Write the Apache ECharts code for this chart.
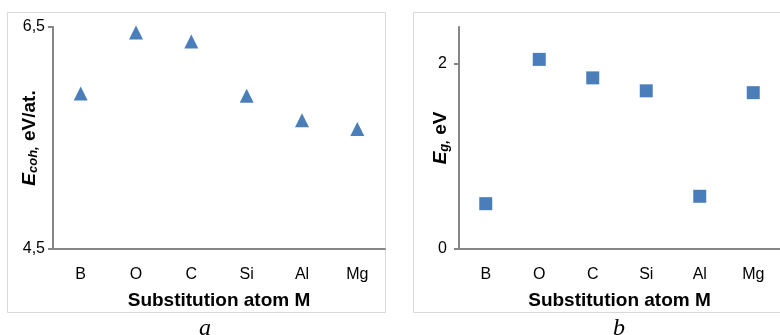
<!DOCTYPE html>
<html>
<head>
<meta charset="utf-8">
<script src="https://cdn.jsdelivr.net/npm/echarts@6.0.0/dist/echarts.min.js"></script>
<style>
  html, body { margin: 0; padding: 0; background: #fff; }
  #chart { width: 780px; height: 335px; }
</style>
</head>
<body>
<div id="chart"></div>
<script>
// --- DATA ---
const atoms = ['B', 'O', 'C', 'Si', 'Al', 'Mg'];
const cohesiveEnergy = [5.90, 6.45, 6.37, 5.88, 5.66, 5.58];   // panel a, eV/at.
const bandGap = [0.49, 2.05, 1.85, 1.71, 0.57, 1.69];           // panel b, eV
const ticksA = [4.5, 6.5];
const ticksB = [0, 2];

// --- STYLE ---
const AXIS = '#868686';
const MARK = '#4A7EBB';
const FONT = 'Liberation Sans, Arial, sans-serif';

const nameRich = {
    e: { fontFamily: FONT, fontSize: 19, fontWeight: 'bold', fontStyle: 'italic', color: '#000' },
    s: { fontFamily: FONT, fontSize: 13, fontWeight: 'bold', fontStyle: 'italic', color: '#000', verticalAlign: 'bottom', padding: [8, 0, 0, 0] },
    n: { fontFamily: FONT, fontSize: 19, fontWeight: 'bold', color: '#000' }
};

const catAxis = (idx) => ({
    type: 'category',
    gridIndex: idx,
    data: atoms,
    boundaryGap: true,
    position: 'bottom',
    axisLine: { lineStyle: { color: AXIS, width: 2 } },
    axisTick: { alignWithLabel: true, length: 4, lineStyle: { color: AXIS, width: 2 } },
    axisLabel: { margin: 18, fontFamily: FONT, fontSize: 16, color: '#000' },
    name: 'Substitution atom M',
    nameLocation: 'middle',
    nameGap: 42,
    nameMoveOverlap: false,
    nameTextStyle: { fontFamily: FONT, fontSize: 19, fontWeight: 'bold', color: '#000' }
});

// second axis only to draw the inner half of the crossing ticks
const innerTicks = (idx) => ({
    type: 'category',
    gridIndex: idx,
    data: atoms,
    boundaryGap: true,
    position: 'bottom',
    axisLine: { show: false },
    axisTick: { alignWithLabel: true, inside: true, length: 4, lineStyle: { color: AXIS, width: 2 } },
    axisLabel: { show: false }
});

const chart = echarts.init(document.getElementById('chart'));

chart.setOption({
    backgroundColor: '#fff',
    animation: false,
    grid: [
        { left: 53, top: 27, width: 332, height: 222 },
        { left: 459, top: 27, width: 332, height: 222 }
    ],
    xAxis: [catAxis(0), catAxis(1), innerTicks(0), innerTicks(1)],
    yAxis: [
        {
            type: 'value',
            gridIndex: 0,
            min: ticksA[0],
            max: ticksA[1],
            interval: 2,
            splitLine: { show: false },
            axisLine: { show: true, lineStyle: { color: AXIS, width: 2 } },
            axisTick: { show: true, length: 5, lineStyle: { color: AXIS, width: 2 } },
            axisLabel: {
                margin: 8, fontFamily: FONT, fontSize: 16, color: '#000',
                formatter: v => v.toFixed(1).replace('.', ',')
            },
            name: '{e|E}{s|coh,}{n| eV/at.}',
            nameLocation: 'middle',
            nameRotate: 90,
            nameGap: 13,
            nameMoveOverlap: false,
            nameTextStyle: { rich: nameRich }
        },
        {
            type: 'value',
            gridIndex: 1,
            min: 0,
            max: 2.4,
            interval: 2,
            splitLine: { show: false },
            axisLine: { show: true, lineStyle: { color: AXIS, width: 2 } },
            axisTick: { show: true, length: 5, customValues: ticksB, lineStyle: { color: AXIS, width: 2 } },
            axisLabel: {
                margin: 12, fontFamily: FONT, fontSize: 16, color: '#000',
                customValues: ticksB
            },
            name: '{e|E}{s|g,}{n| eV}',
            nameLocation: 'middle',
            nameRotate: 90,
            nameGap: 8,
            nameMoveOverlap: false,
            nameTextStyle: { rich: nameRich }
        }
    ],
    series: [
        {
            type: 'scatter',
            xAxisIndex: 0,
            yAxisIndex: 0,
            data: cohesiveEnergy,
            symbol: 'triangle',
            symbolSize: 14,
            itemStyle: { color: MARK, opacity: 1 }
        },
        {
            type: 'scatter',
            xAxisIndex: 1,
            yAxisIndex: 1,
            data: bandGap,
            symbol: 'rect',
            symbolSize: 13,
            itemStyle: { color: MARK, opacity: 1 }
        }
    ],
    graphic: [
        { type: 'rect', shape: { x: 7.5, y: 12.5, width: 378, height: 300 }, style: { fill: 'none', stroke: '#d9d9d9', lineWidth: 1 }, z: -1 },
        { type: 'rect', shape: { x: 413.5, y: 12.5, width: 380, height: 300 }, style: { fill: 'none', stroke: '#d9d9d9', lineWidth: 1 }, z: -1 },
        { type: 'text', left: 199, top: 317, style: { text: 'a', font: 'italic 24px "Liberation Serif", "Times New Roman", serif', fill: '#000' } },
        { type: 'text', left: 613, top: 317, style: { text: 'b', font: 'italic 24px "Liberation Serif", "Times New Roman", serif', fill: '#000' } }
    ]
});
</script>
</body>
</html>
